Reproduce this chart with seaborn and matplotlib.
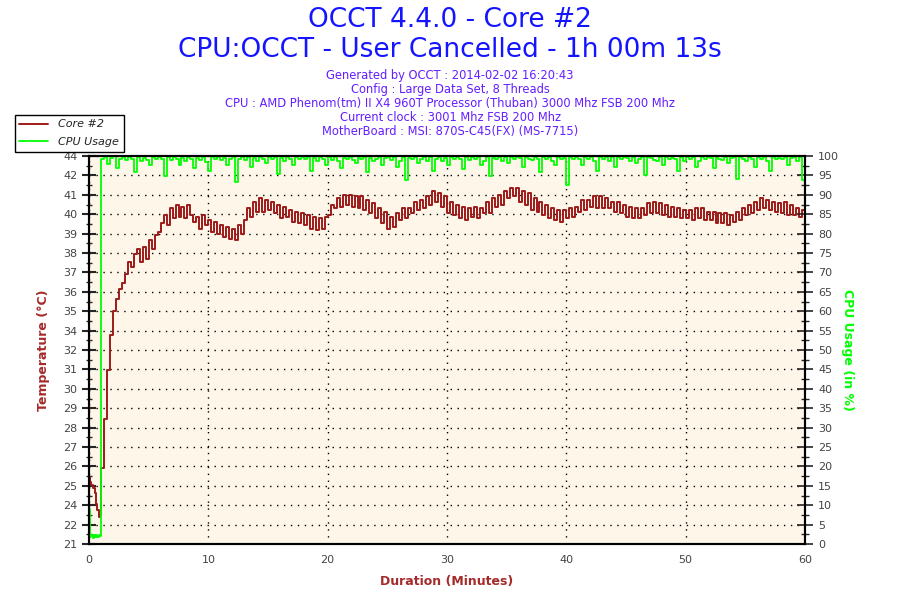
import numpy as np
import pandas as pd
import matplotlib
matplotlib.use("Agg")
import matplotlib.pyplot as plt
from matplotlib.ticker import MultipleLocator, FixedLocator
import seaborn as sns

# first minute sampled finer (start-up), then every 15 s
early_minutes = [0.0, 0.1, 0.2, 0.3, 0.4, 0.5, 0.6, 0.7, 0.8, 0.9]
early_temp = [25.0, 24.7, 24.5, 24.3, 24.3, 24.0, 23.4, 23.0, 22.6, 22.7]
early_cpu = [9.0, 1.8, 2.3, 1.6, 2.4, 1.9, 2.2, 1.7, 2.3, 2.0]

# core #2 temperature, 4 readings per minute from minute 1 to 60
core_temp = [
    25.5, 28.4, 31.3, 33.4,  34.8, 35.5, 36.1, 36.5,  37.0, 37.7, 37.4, 38.2,
    38.5, 37.7, 38.6, 37.9,  39.0, 38.5, 39.3, 39.5,  40.0, 40.5, 39.9, 40.9,
    40.3, 41.1, 40.4, 41.0,  40.3, 41.1, 40.5, 40.1,  40.4, 39.7, 40.5, 39.9,
    40.2, 39.5, 40.1, 39.4,  39.9, 39.2, 39.8, 39.1,  39.7, 39.0, 39.9, 39.4,
    40.2, 40.9, 40.4, 41.3,  40.7, 41.5, 40.7, 41.4,  40.8, 41.3, 40.6, 41.1,
    40.3, 41.0, 40.4, 40.8,  40.1, 40.7, 40.0, 40.6,  39.9, 40.5, 39.7, 40.4,
    39.6, 40.3, 39.7, 40.4,  40.5, 41.1, 40.9, 41.5,  41.0, 41.7, 41.1, 41.7,
    41.0, 41.6, 40.9, 41.6,  40.8, 41.4, 40.6, 41.2,  40.3, 40.9, 40.0, 40.7,
    39.7, 40.4, 39.8, 40.6,  40.2, 40.9, 40.3, 40.9,  40.6, 41.3, 40.8, 41.4,
    40.9, 41.6, 41.1, 41.9,  41.3, 41.8, 41.0, 41.6,  40.6, 41.3, 40.5, 41.1,
    40.3, 41.0, 40.2, 40.9,  40.4, 41.0, 40.3, 40.9,  40.6, 41.3, 40.6, 41.5,
    41.0, 41.7, 41.1, 41.9,  41.5, 42.1, 41.6, 42.1,  41.3, 41.9, 41.1, 41.8,
    40.8, 41.5, 40.7, 41.3,  40.5, 41.1, 40.3, 40.9,  40.2, 40.8, 40.1, 40.8,
    40.3, 40.9, 40.4, 41.0,  40.7, 41.4, 40.8, 41.4,  41.0, 41.6, 40.9, 41.6,
    40.9, 41.5, 40.9, 41.3,  40.7, 41.3, 40.6, 41.1,  40.4, 41.0, 40.3, 40.9,
    40.3, 40.9, 40.5, 41.2,  40.6, 41.3, 40.6, 41.2,  40.5, 41.1, 40.4, 41.0,
    40.4, 40.9, 40.3, 40.8,  40.3, 40.8, 40.2, 40.9,  40.3, 40.9, 40.2, 40.7,
    40.2, 40.7, 40.0, 40.6,  40.0, 40.6, 39.9, 40.5,  40.1, 40.7, 40.2, 40.9,
    40.5, 41.1, 40.6, 41.3,  40.8, 41.5, 40.9, 41.4,  40.8, 41.3, 40.7, 41.2,
    40.6, 41.3, 40.5, 41.1,  40.5, 40.9, 40.4, 40.8,  40.6,
]

# cpu usage in %, same sampling
cpu_usage = [
    99.2, 99.8, 98.0, 99.5,  99.9, 96.8, 99.3, 99.8,  98.9, 99.7, 99.1, 95.8,
    99.8, 98.7, 99.6, 99.0,  97.6, 99.7, 99.1, 99.8,  99.2, 94.8, 99.8, 98.9,
    99.7, 99.1, 97.8, 99.6,  98.8, 99.8, 99.2, 96.9,  99.6, 99.0, 99.8, 98.4,
    96.2, 99.7, 99.1, 99.8,  98.9, 99.6, 97.6, 99.3,  99.8, 93.4, 99.2, 99.7,
    99.0, 99.8, 97.2, 99.6,  98.8, 99.7, 99.1, 98.1,  99.8, 99.2, 99.7, 95.3,
    99.6, 98.8, 99.8, 99.1,  97.7, 99.7, 99.2, 99.8,  99.1, 99.7, 96.2, 99.6,
    98.8, 99.8, 99.2, 97.7,  99.7, 99.0, 99.8, 98.7,  96.8, 99.6, 99.1, 99.8,
    99.0, 98.2, 99.7, 99.2,  99.8, 95.8, 99.6, 98.8,  99.2, 99.8, 97.8, 99.6,
    99.7, 99.0, 99.8, 97.2,  98.8, 99.7, 93.8, 99.6,  99.1, 99.8, 98.3, 99.2,
    99.8, 98.8, 99.7, 96.2,  99.2, 99.8, 98.8, 99.6,  97.7, 99.7, 99.1, 99.8,
    99.2, 96.7, 99.7, 99.0,  99.8, 99.1, 99.7, 97.8,  98.8, 99.8, 94.8, 99.6,
    99.1, 99.8, 98.8, 99.7,  98.2, 99.8, 99.2, 99.7,  99.6, 97.2, 99.8, 99.1,
    98.9, 99.7, 99.2, 95.8,  99.8, 99.1, 99.7, 98.8,  97.7, 99.8, 99.2, 99.6,
    92.6, 99.7, 99.1, 99.8,  99.2, 97.7, 99.8, 99.1,  99.7, 98.8, 96.2, 99.8,
    99.1, 99.7, 98.8, 99.8,  97.2, 99.7, 99.1, 99.8,  99.6, 98.8, 99.8, 98.2,
    99.1, 99.7, 95.2, 99.8,  99.6, 99.0, 98.8, 99.7,  97.7, 99.8, 99.1, 99.6,
    99.2, 96.2, 99.8, 98.8,  99.7, 99.1, 99.8, 97.2,  98.8, 99.7, 99.2, 99.8,
    99.6, 96.8, 99.7, 99.1,  99.0, 99.8, 98.2, 99.6,  99.8, 94.2, 99.7, 99.1,
    98.8, 99.7, 99.2, 97.2,  99.8, 99.1, 99.7, 98.8,  96.2, 99.8, 99.1, 99.6,
    99.2, 99.8, 97.7, 99.6,  99.7, 98.8, 99.8, 93.8,  99.6,
]

main_minutes = np.arange(1.0, 60.001, 0.25)

temp_tick_labels = ['21', '22', '24', '25', '26', '27', '28', '29', '30', '31', '32',
                    '34', '35', '36', '37', '38', '39', '40', '41', '42', '44']

df = pd.DataFrame({
    'minutes': np.concatenate([early_minutes, main_minutes]),
    'temp': early_temp + core_temp,
    'cpu': early_cpu + cpu_usage,
})

red = '#9E1A1A'
green = '#00FF00'
label_red = '#A52A2A'

sns.set_style('white')
plt.rcParams['font.family'] = ['DejaVu Sans']

fig = plt.figure(figsize=(9, 6), dpi=100)
ax = fig.add_axes([89 / 900, 1 - 544 / 600, 716 / 900, 388 / 600])
ax.set_facecolor('#FDF6E9')
ax2 = ax.twinx()

sns.lineplot(data=df, x='minutes', y='temp', ax=ax, color=red, lw=1.4,
             drawstyle='steps-post', legend=False)
sns.lineplot(data=df, x='minutes', y='cpu', ax=ax2, color=green, lw=1.3,
             drawstyle='steps-post', legend=False)

ax.set_xlim(0, 60)
ax.set_ylim(21, 44)
ax2.set_ylim(0, 100)

ax.xaxis.set_major_locator(MultipleLocator(10))
ax.xaxis.set_minor_locator(MultipleLocator(2))
temp_ticks = np.linspace(21, 44, len(temp_tick_labels))
ax.yaxis.set_major_locator(FixedLocator(temp_ticks))
ax.yaxis.set_minor_locator(FixedLocator((temp_ticks[:-1] + temp_ticks[1:]) / 2))
ax.set_yticklabels(temp_tick_labels)
ax2.yaxis.set_major_locator(MultipleLocator(5))
ax2.yaxis.set_minor_locator(MultipleLocator(2.5))

ax.grid(True, which='major', color='black', linestyle=(0, (1, 4)), lw=1.0)

tick_color = '#444444'
ax.tick_params(axis='x', which='major', direction='out', length=4, width=1,
               labelsize=8, labelcolor=tick_color, pad=4)
ax.tick_params(axis='x', which='minor', direction='in', length=4, width=1)
ax.tick_params(axis='y', which='major', direction='inout', length=10, width=1.5,
               labelsize=8, labelcolor=tick_color, left=True)
ax.tick_params(axis='y', which='minor', direction='inout', length=5, width=1, left=True)
ax2.tick_params(axis='y', which='major', direction='inout', length=12, width=1.2,
                labelsize=8, labelcolor=tick_color, right=True)
ax2.tick_params(axis='y', which='minor', direction='inout', length=6, width=1, right=True)

for a in (ax, ax2):
    for sp in a.spines.values():
        sp.set_color('black')
        sp.set_linewidth(1.5)

ax.set_xlabel('Duration (Minutes)', color=label_red, fontweight='bold', fontsize=9)
ax.xaxis.set_label_coords(0.5, -0.08)
ax.set_ylabel('Temperature (°C)', color=label_red, fontweight='bold', fontsize=9)
ax.yaxis.set_label_coords(-0.055, 0.5)
ax2.set_ylabel('CPU Usage (in %)', color=green, fontweight='bold', fontsize=9,
               rotation=270, va='center')
ax2.yaxis.set_label_coords(1.06, 0.5)

# titles
fig.text(0.5, 1 - 20 / 600, 'OCCT 4.4.0 - Core #2', ha='center', va='center',
         fontsize=19, color='#1414FF')
fig.text(0.5, 1 - 50 / 600, 'CPU:OCCT - User Cancelled - 1h 00m 13s', ha='center',
         va='center', fontsize=19, color='#1414FF')
info_lines = [
    'Generated by OCCT : 2014-02-02 16:20:43',
    'Config : Large Data Set, 8 Threads',
    'CPU : AMD Phenom(tm) II X4 960T Processor (Thuban) 3000 Mhz FSB 200 Mhz',
    'Current clock : 3001 Mhz FSB 200 Mhz',
    'MotherBoard : MSI: 870S-C45(FX) (MS-7715)',
]
for i, line in enumerate(info_lines):
    fig.text(0.5, 1 - (76 + 13.8 * i) / 600, line, ha='center', va='center',
             fontsize=8.3, color='#641EFF')

handles = [ax.get_lines()[0], ax2.get_lines()[0]]
leg = fig.legend(handles, ['Core #2', 'CPU Usage'], loc='upper left',
                 bbox_to_anchor=(15 / 900, 1 - 115 / 600), borderaxespad=0,
                 fancybox=False, framealpha=1, edgecolor='black',
                 prop={'style': 'italic', 'size': 8}, handlelength=2.6,
                 handletextpad=0.9, labelspacing=0.7, borderpad=0.4)
leg.get_frame().set_linewidth(1.0)
for t in leg.get_texts():
    t.set_color('#222222')

fig.savefig('out.png', dpi=100)
